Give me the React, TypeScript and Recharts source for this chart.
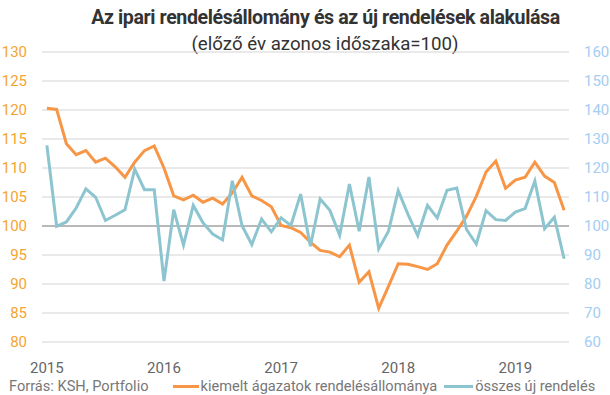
import { LineChart, Line, XAxis, YAxis, CartesianGrid, ReferenceLine } from 'recharts';

const years = ['2015', '2016', '2017', '2018', '2019'];

// kiemelt ágazatok rendelésállománya (bal tengely), 2015.01 - 2019.06
const orderStock = [
  120.3, 120.1, 114.2, 112.3, 113.0, 111.0, 111.7, 110.2, 108.4, 111.0, 113.0, 113.8,
  110.0, 105.2, 104.5, 105.3, 104.1, 104.8, 103.8, 105.7, 108.4, 105.2, 104.4, 103.3,
  100.1, 99.7, 98.9, 97.2, 95.8, 95.5, 94.7, 96.7, 90.3, 92.1, 85.8, 89.6,
  93.5, 93.4, 93.0, 92.5, 93.5, 96.7, 99.1, 101.7, 105.1, 109.3, 111.2, 106.5,
  107.9, 108.4, 111.0, 108.6, 107.5, 102.7,
];

// összes új rendelés (jobb tengely)
const newOrders = [
  127.8, 99.9, 101.4, 106.2, 112.8, 109.9, 101.9, 103.7, 105.6, 119.6, 112.5, 112.5,
  81.0, 105.6, 93.4, 107.1, 101.1, 97.2, 95.2, 115.6, 100.1, 93.6, 102.4, 98.0,
  102.8, 100.2, 111.0, 93.0, 109.3, 105.4, 96.8, 114.5, 98.2, 116.9, 92.1, 98.2,
  112.2, 104.0, 96.7, 107.1, 102.8, 112.3, 113.1, 98.8, 93.8, 105.3, 102.2, 101.9,
  104.8, 106.0, 115.5, 99.1, 103.0, 88.7,
];

const leftTicks = [80, 85, 90, 95, 100, 105, 110, 115, 120, 125, 130];
const rightTicks = [60, 70, 80, 90, 100, 110, 120, 130, 140, 150, 160];
const yearTicks = [0, 12, 24, 36, 48];

const data = orderStock.map((v, i) => ({ i, stock: v, orders: newOrders[i] }));

const font = 'Roboto, "Noto Sans", sans-serif';

export default function App() {
  return (
    <div style={{ position: 'absolute', left: 0, top: 0, width: 610, height: 395, background: '#fff', fontFamily: font, overflow: 'hidden' }}>
      <div style={{ position: 'absolute', left: 0, width: 651, top: 6, lineHeight: '24px', textAlign: 'center', fontSize: 19.6, fontWeight: 700, color: '#333', letterSpacing: -0.4 }}>
        Az ipari rendelésállomány és az új rendelések alakulása
      </div>
      <div style={{ position: 'absolute', left: 0, width: 650, top: 32, lineHeight: '24px', textAlign: 'center', fontSize: 18.7, color: '#333' }}>
        (előző év azonos időszaka=100)
      </div>
      <LineChart width={610} height={395} data={data} margin={{ top: 52, right: 0, bottom: 23, left: 0 }}>
        <CartesianGrid horizontal vertical={false} stroke="#d4d4d4" yAxisId="left" />
        <XAxis
          dataKey="i"
          type="number"
          domain={[-0.5, 53.5]}
          ticks={yearTicks}
          tickFormatter={(v) => years[v / 12]}
          axisLine={false}
          tickLine={false}
          tickSize={0}
          tickMargin={20}
          tick={{ fill: '#666', fontSize: 15 }}
          height={30}
        />
        <YAxis
          yAxisId="left"
          domain={[80, 130]}
          ticks={leftTicks}
          axisLine={false}
          tickLine={false}
          tickSize={0}
          tickMargin={15}
          width={42}
          tick={{ fill: '#F5A431', fontSize: 15 }}
        />
        <YAxis
          yAxisId="right"
          orientation="right"
          domain={[60, 160]}
          ticks={rightTicks}
          axisLine={false}
          tickLine={false}
          tickSize={0}
          tickMargin={15}
          width={41}
          tick={{ fill: '#A4CDF2', fontSize: 15, textAnchor: 'start' }}
        />
        <ReferenceLine yAxisId="left" y={100} stroke="#888" strokeWidth={1} />
        <Line yAxisId="left" dataKey="stock" stroke="#F79646" strokeWidth={3} dot={false} isAnimationActive={false} />
        <Line yAxisId="right" dataKey="orders" stroke="#8CC5CF" strokeWidth={3} dot={false} isAnimationActive={false} />
      </LineChart>
      <div style={{ position: 'absolute', left: 0, right: 0, top: 379, height: 15, lineHeight: '15px', display: 'flex', alignItems: 'center', fontSize: 14.6, color: '#777', whiteSpace: 'nowrap' }}>
        <span style={{ marginLeft: 9 }}>Forrás: KSH, Portfolio</span>
        <span style={{ display: 'inline-block', width: 26, height: 3, background: '#F79646', marginLeft: 24 }} />
        <span style={{ marginLeft: 2 }}>kiemelt ágazatok rendelésállománya</span>
        <span style={{ display: 'inline-block', width: 29, height: 3, background: '#8CC5CF', marginLeft: 7 }} />
        <span style={{ marginLeft: 2 }}>összes új rendelés</span>
      </div>
    </div>
  );
}
